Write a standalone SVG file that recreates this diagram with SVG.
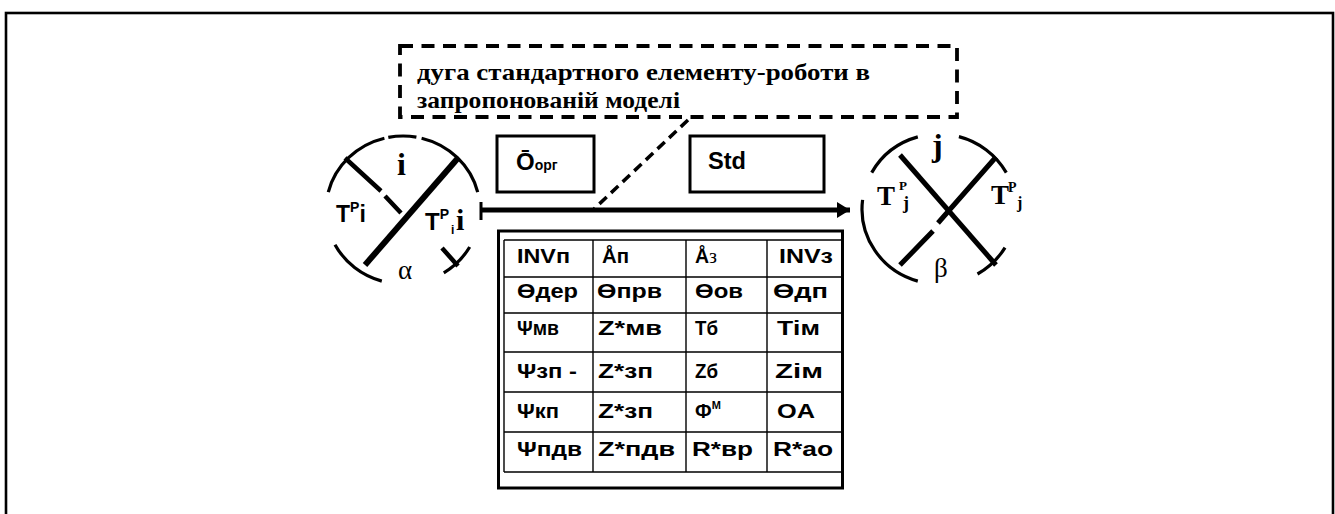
<svg xmlns="http://www.w3.org/2000/svg" width="1335" height="514" viewBox="0 0 1335 514">
  <style>
    .arc { fill: none; stroke: #000; stroke-width: 3.2; stroke-linecap: butt; }
    .bar { fill: none; stroke: #000; stroke-width: 5; stroke-linecap: butt; }
    .thin { fill: none; stroke: #000; stroke-width: 4.5; stroke-linecap: butt; }
    .box { fill: #fff; stroke: #000; stroke-width: 3; }
    .grid { fill: none; stroke: #000; stroke-width: 1.4; }
    .sans { font-family: "Liberation Sans", Arial, sans-serif; font-weight: bold; fill: #000; }
    .serif { font-family: "Liberation Serif", "Times New Roman", serif; fill: #000; }
    .cell { font-family: "Liberation Sans", Arial, sans-serif; font-weight: bold; font-size: 19.5px; fill: #000; }
    .dash { fill: none; stroke: #000; stroke-width: 3.8; stroke-dasharray: 13 8.5; }
  </style>
  <defs>
    <marker id="head" markerUnits="userSpaceOnUse" markerWidth="14" markerHeight="16" refX="13" refY="8" orient="auto">
      <path d="M0,0 L13,8 L0,16 Z" fill="#000"/>
    </marker>
  </defs>

  <rect x="0" y="0" width="1335" height="514" fill="#fff"/>
  <!-- outer frame -->
  <rect x="6" y="13" width="1327" height="530" fill="none" stroke="#000" stroke-width="2.6"/>

  <!-- connectors -->
  <g id="connectors">
    <line x1="481" y1="210" x2="850" y2="210" class="bar" marker-end="url(#head)"/>
    <line x1="481" y1="202" x2="481" y2="220" stroke="#000" stroke-width="3"/>
    <line x1="688" y1="120" x2="594" y2="209" fill="none" stroke="#000" stroke-width="3.5" stroke-dasharray="10 6"/>
  </g>

  <!-- note on the arc -->
  <g id="note">
    <rect x="400" y="46" width="557" height="71" class="dash"/>
    <text class="serif" font-weight="bold" font-size="23.5" x="417" y="80" textLength="453" lengthAdjust="spacingAndGlyphs">дуга стандартного елементу-роботи в</text>
    <text class="serif" font-weight="bold" font-size="23.5" x="417" y="108" textLength="263" lengthAdjust="spacingAndGlyphs">запропонованій моделі</text>
  </g>

  <!-- event i -->
  <g id="node-i">
    <path class="arc" d="M388.3,137.4 A77,74 0 0 1 416.4,137.1"/>
    <path class="arc" d="M421.6,138.2 A77,74 0 0 1 477.7,192.1"/>
    <path class="arc" d="M328.3,192.1 A77,74 0 0 1 384.4,138.2"/>
    <path class="arc" d="M381.8,281.1 A77,74 0 0 1 335.0,244.7"/>
    <path class="arc" d="M469.7,247 A77,74 0 0 1 443.8,272.8"/>
    <line x1="365" y1="265" x2="458" y2="158" stroke="#000" stroke-width="6"/>
    <path class="thin" d="M345,158 L381,191 M385,196 L401,213 M442,248 L458,266"/>
    <text class="serif" font-weight="bold" font-size="32" x="397" y="175">i</text>
    <text class="sans" font-size="23" x="336" y="222">T<tspan font-size="14" dy="-10">P</tspan><tspan dy="10">i</tspan></text>
    <text class="sans" font-size="24" x="425" y="230">T<tspan font-size="14" dy="-11">P</tspan><tspan font-size="12" x="451" dy="15">i</tspan><tspan class="serif" font-weight="bold" font-size="30" x="456" dy="-4">i</tspan></text>
    <text class="serif" font-size="27" x="398" y="279">α</text>
  </g>

  <!-- event j -->
  <g id="node-j">
    <path class="arc" d="M871.7,172.6 A77,75 0 0 1 917.8,136.9"/>
    <path class="arc" d="M958.9,136.6 A77,75 0 0 1 1006.3,172.6"/>
    <path class="arc" d="M917.8,281.1 A77,75 0 0 1 862.6,199.9"/>
    <path class="arc" d="M1005,247.6 A77,75 0 0 1 977.5,274"/>
    <line x1="900" y1="155" x2="996" y2="265" class="bar"/>
    <path class="bar" d="M900,265 L933,231 M938,223 L996,157"/>
    <text class="serif" font-weight="bold" font-size="32" x="932" y="156">j</text>
    <text class="serif" font-weight="bold" font-size="27" x="877" y="205">T<tspan font-size="13" x="899" dy="-15">P</tspan><tspan font-size="18" x="903" dy="19">j</tspan></text>
    <text class="serif" font-weight="bold" font-size="27" x="991" y="204">T<tspan font-size="14" x="1008" dy="-12">P</tspan><tspan font-size="16" x="1017" dy="16">j</tspan></text>
    <text class="serif" font-size="27" x="934" y="277">β</text>
  </g>

  <!-- organisational resources box -->
  <g id="box-org">
    <rect x="497" y="136" width="97" height="56" class="box"/>
    <text class="sans" font-size="24" x="516" y="170">Ō<tspan font-size="14">орг</tspan></text>
  </g>

  <!-- standard box -->
  <g id="box-std">
    <rect x="690" y="136" width="134" height="56" class="box"/>
    <text class="sans" font-size="23" x="708" y="169" textLength="38" lengthAdjust="spacingAndGlyphs">Std</text>
  </g>

  <!-- parameter table -->
  <g id="table">
    <rect x="498.5" y="231" width="344" height="257" class="box"/>
    <path class="grid" d="M504,240 V472 M593,240 V472 M686,240 V472 M767,240 V472
                          M504,240 H842 M504,277 H842 M504,313 H842 M504,352 H842
                          M504,392 H842 M504,432 H842 M504,472 H842"/>
    <text class="cell" x="517" y="263" textLength="53" lengthAdjust="spacingAndGlyphs">INVп</text>
    <text class="cell" x="602" y="263" textLength="27" lengthAdjust="spacingAndGlyphs">Åп</text>
    <text class="cell" x="695" y="263">Å<tspan class="serif" font-weight="normal" font-size="20">з</tspan></text>
    <text class="cell" x="779" y="263" textLength="54" lengthAdjust="spacingAndGlyphs">INVз</text>

    <text class="cell" x="517" y="298" textLength="61" lengthAdjust="spacingAndGlyphs">Өдер</text>
    <text class="cell" x="597" y="298" textLength="65" lengthAdjust="spacingAndGlyphs">Өпрв</text>
    <text class="cell" x="695" y="298" textLength="48" lengthAdjust="spacingAndGlyphs">Өов</text>
    <text class="cell" x="773" y="298" textLength="55" lengthAdjust="spacingAndGlyphs">Өдп</text>

    <text class="cell" x="517" y="335" textLength="42" lengthAdjust="spacingAndGlyphs">Ψмв</text>
    <text class="cell" x="598" y="335" textLength="64" lengthAdjust="spacingAndGlyphs">Z*мв</text>
    <text class="cell" x="695" y="335" textLength="23" lengthAdjust="spacingAndGlyphs">Тб</text>
    <text class="cell" x="777" y="335" textLength="43" lengthAdjust="spacingAndGlyphs">Тім</text>

    <text class="cell" x="517" y="378" textLength="60" lengthAdjust="spacingAndGlyphs">Ψзп -</text>
    <text class="cell" x="598" y="378" textLength="55" lengthAdjust="spacingAndGlyphs">Z*зп</text>
    <text class="cell" x="695" y="378" textLength="23" lengthAdjust="spacingAndGlyphs">Zб</text>
    <text class="cell" x="775" y="378" textLength="48" lengthAdjust="spacingAndGlyphs">Zім</text>

    <text class="cell" x="517" y="418" textLength="42" lengthAdjust="spacingAndGlyphs">Ψкп</text>
    <text class="cell" x="598" y="418" textLength="55" lengthAdjust="spacingAndGlyphs">Z*зп</text>
    <text class="cell" x="695" y="418">Ф<tspan font-size="11" dy="-9">М</tspan></text>
    <text class="cell" x="777" y="418" textLength="38" lengthAdjust="spacingAndGlyphs">OA</text>

    <text class="cell" x="517" y="456" textLength="65" lengthAdjust="spacingAndGlyphs">Ψпдв</text>
    <text class="cell" x="598" y="456" textLength="77" lengthAdjust="spacingAndGlyphs">Z*пдв</text>
    <text class="cell" x="692" y="456" textLength="61" lengthAdjust="spacingAndGlyphs">R*вр</text>
    <text class="cell" x="773" y="456" textLength="60" lengthAdjust="spacingAndGlyphs">R*ao</text>
  </g>
</svg>
